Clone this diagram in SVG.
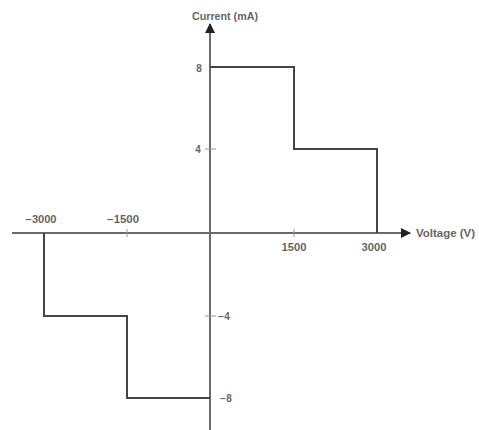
<svg xmlns="http://www.w3.org/2000/svg" width="479" height="430" viewBox="0 0 479 430">
<style>
.ax{stroke:#6a6a6a;stroke-width:2;fill:none}
.cv{stroke:#444;stroke-width:2;fill:none}
.tk{stroke:#999;stroke-width:1}
text{font-family:"Liberation Sans",Arial,sans-serif;font-weight:bold;font-size:10px;fill:#666}
</style>
<defs>
<marker id="ah" viewBox="0 0 10 10" refX="9" refY="5" markerWidth="5" markerHeight="5" orient="auto"><path d="M0,0L10,5L0,10z" fill="#222"/></marker>
</defs>
<rect width="479" height="430" fill="#fff"/>
<g id="connectors">
<line class="ax" x1="210" y1="430" x2="210" y2="24" marker-end="url(#ah)"/>
<line class="ax" x1="12" y1="233" x2="410" y2="233" marker-end="url(#ah)"/>
<line class="tk" x1="294" y1="229" x2="294" y2="237"/>
<line class="tk" x1="127" y1="229" x2="127" y2="237"/>
<line class="tk" x1="205" y1="149" x2="216" y2="149"/>
<line class="tk" x1="205" y1="316" x2="216" y2="316"/>
<polyline class="cv" points="210,67 294,67 294,149 377,149 377,233"/>
<polyline class="cv" points="44,233 44,316 127,316 127,398 210,398"/>
</g>
<g id="labels">
<text x="225" y="20" text-anchor="middle" textLength="66" lengthAdjust="spacingAndGlyphs">Current (mA)</text>
<text x="416" y="237" textLength="59" lengthAdjust="spacingAndGlyphs">Voltage (V)</text>
<text x="41" y="223" text-anchor="middle" textLength="31" lengthAdjust="spacingAndGlyphs">−3000</text>
<text x="123" y="223" text-anchor="middle" textLength="32" lengthAdjust="spacingAndGlyphs">−1500</text>
<text x="294" y="251" text-anchor="middle" textLength="25" lengthAdjust="spacingAndGlyphs">1500</text>
<text x="374" y="251" text-anchor="middle" textLength="25" lengthAdjust="spacingAndGlyphs">3000</text>
<text x="199" y="72" text-anchor="middle">8</text>
<text x="198" y="153" text-anchor="middle">4</text>
<text x="224" y="320" text-anchor="middle">−4</text>
<text x="226" y="402" text-anchor="middle">−8</text>
</g>
</svg>
